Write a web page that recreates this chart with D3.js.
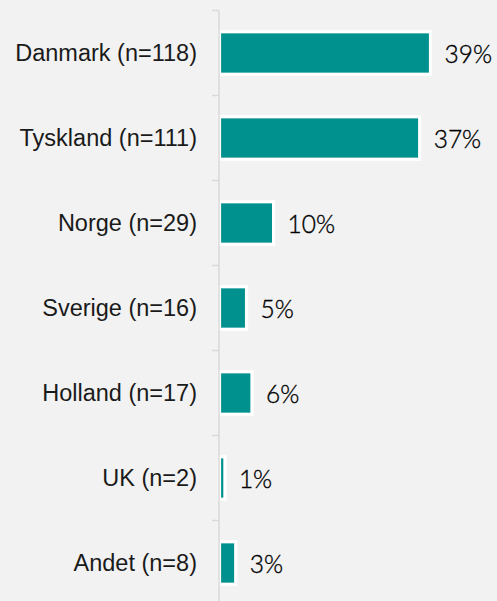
<!DOCTYPE html>
<html>
<head>
<meta charset="utf-8">
<script src="https://cdn.jsdelivr.net/npm/d3@7"></script>
<style>
  html, body { margin: 0; padding: 0; background: #f2f2f2; }
  svg { display: block; }
</style>
</head>
<body>
<svg id="chart" width="497" height="601"></svg>
<script>
// Share of respondents by country
const categories = ["Danmark (n=118)", "Tyskland (n=111)", "Norge (n=29)", "Sverige (n=16)", "Holland (n=17)", "UK (n=2)", "Andet (n=8)"];
const values = [39, 37, 10, 5, 6, 1, 3];
const valueLabels = ["39%", "37%", "10%", "5%", "6%", "1%", "3%"];

const W = 497, H = 601;
const axisX = 219;
const svg = d3.select("#chart");

svg.append("rect").attr("width", W).attr("height", H).attr("fill", "#f2f2f2");

const y = d3.scaleBand()
  .domain(categories)
  .range([10.5, 10.5 + 85 * categories.length])
  .paddingInner(0.5)
  .paddingOuter(0.25);

const x = d3.scaleLinear()
  .domain([0, 39])
  .range([axisX + 0.5, axisX + 0.5 + 211]);

const data = categories.map((c, i) => ({ cat: c, v: values[i], label: valueLabels[i] }));

// bars
svg.append("g").selectAll("rect")
  .data(data)
  .join("rect")
  .attr("x", x(0))
  .attr("y", d => y(d.cat))
  .attr("width", d => x(d.v) - x(0))
  .attr("height", y.bandwidth())
  .attr("fill", "#00918e")
  .attr("stroke", "#ffffff")
  .attr("stroke-width", 3.2);

// axis with ticks on band boundaries
const axisG = svg.append("g");
const bounds = d3.range(categories.length + 1).map(i => y.range()[0] + i * y.step());
axisG.append("line")
  .attr("x1", axisX).attr("x2", axisX)
  .attr("y1", bounds[0]).attr("y2", bounds[bounds.length - 1])
  .attr("stroke", "#d9d9d9").attr("stroke-width", 1.5);
axisG.selectAll("line.tick")
  .data(bounds)
  .join("line")
  .attr("class", "tick")
  .attr("x1", axisX - 7).attr("x2", axisX)
  .attr("y1", d => d).attr("y2", d => d)
  .attr("stroke", "#d9d9d9").attr("stroke-width", 1.5);

// category labels
svg.append("g").selectAll("text")
  .data(data)
  .join("text")
  .attr("x", 197)
  .attr("y", d => y(d.cat) + y.bandwidth() / 2 + 8.2)
  .attr("text-anchor", "end")
  .attr("font-family", "Liberation Sans, Arial, sans-serif")
  .attr("font-size", 23.5)
  .attr("fill", "#1a1a1a")
  .text(d => d.cat);

// value labels
svg.append("g").selectAll("text")
  .data(data)
  .join("text")
  .attr("x", d => x(d.v) + 14)
  .attr("y", d => y(d.cat) + y.bandwidth() / 2 + 9.5)
  .attr("font-family", "Lato, sans-serif")
  .attr("font-weight", 300)
  .attr("font-size", 24.5)
  .attr("fill", "#000000")
  .attr("stroke", "#000000")
  .attr("stroke-width", 0.35)
  .text(d => d.label);
</script>
</body>
</html>
